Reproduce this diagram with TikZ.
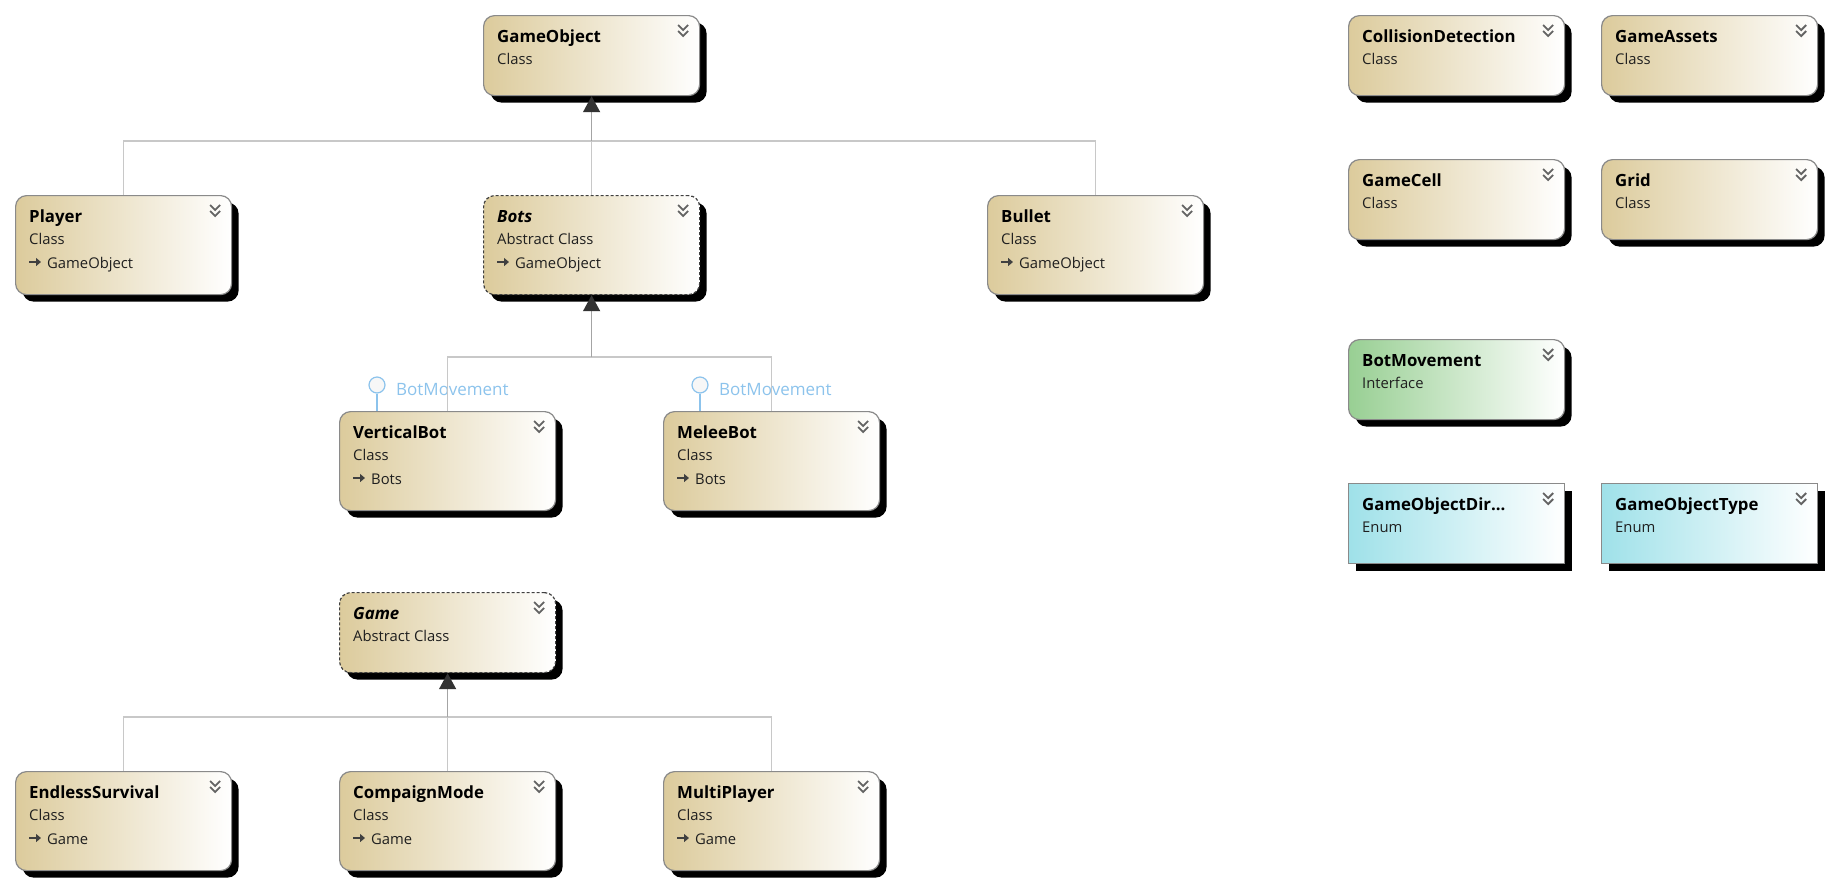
\documentclass[tikz,border=0pt]{standalone}
\usepackage{fontspec}
\setmainfont{Open Sans}
\usetikzlibrary{shadows,arrows.meta,calc}
\definecolor{tanc}{HTML}{DCCB9C}
\definecolor{grnc}{HTML}{98CF93}
\definecolor{cync}{HTML}{9FE1E9}
\definecolor{bordc}{HTML}{8A8A8A}
\definecolor{connc}{HTML}{C8C8C8}
\definecolor{stemc}{HTML}{A4A4A4}
\definecolor{lollic}{HTML}{8CC3EC}
\definecolor{chevc}{HTML}{646464}
\definecolor{tipc}{HTML}{333333}
\tikzset{
  umlbase/.style={draw=bordc, line width=1.2pt, minimum width=216pt, anchor=north west,
    inner sep=0pt, general shadow={fill=black, shadow xshift=7pt, shadow yshift=-7pt}},
  classbox/.style={umlbase, rounded corners=11pt, left color=tanc, right color=white},
  abstractbox/.style={classbox, draw=black!75, dash pattern=on 3pt off 2pt},
  ifacebox/.style={umlbase, rounded corners=11pt, left color=grnc, right color=white},
  enumbox/.style={umlbase, left color=cync, right color=white},
  titlet/.style={anchor=base west, inner sep=0pt, font=\bfseries\fontsize{16.8}{19}\selectfont},
  subt/.style={anchor=base west, inner sep=0pt, text=black!88, font=\fontsize{14.8}{17}\selectfont},
  chevl/.style={draw=chevc, line width=1.8pt},
  basearrow/.style={draw=black!75, line width=1.8pt, -{Triangle[length=5pt,width=8pt]}},
  connl/.style={draw=connc, line width=1.5pt},
  tipl/.style={-{Triangle[length=16pt,width=17pt,color=tipc]}, draw=stemc, line width=1.5pt},
  lollicirc/.style={circle, draw=lollic, fill=black!3, line width=1.2pt, minimum size=16pt, inner sep=0pt},
  lolliline/.style={draw=lollic, line width=1.2pt},
  lollitext/.style={anchor=base west, inner sep=0pt, text=lollic, font=\fontsize{17}{19}\selectfont}
}
% #1 name, #2 style, #3 x, #4 y, #5 height, #6 title, #7 kind, #8 base class
\newcommand\umlbox[8]{%
  \node[#2, minimum height=#5pt] (#1) at (#3,#4) {};
  \node[titlet] (#1-t) at ($(#1.north west)+(14,27)$) {#6};
  \node[subt] (#1-k) at ($(#1.north west)+(14,49)$) {#7};
  \draw[chevl] ($(#1.north east)+(-22,10)$) -- ++(5,5) -- ++(5,-5);
  \draw[chevl] ($(#1.north east)+(-22,16)$) -- ++(5,5) -- ++(5,-5);
  \if\relax\detokenize{#8}\relax\else
    \draw[basearrow] ($(#1.north west)+(14,67)$) -- ++(12,0);
    \node[subt] (#1-b) at ($(#1.north west)+(32,73)$) {#8};
  \fi
}
\begin{document}
\begin{tikzpicture}[x=1pt,y=-1pt]
\useasboundingbox (0,0) rectangle (1828,884);
% left part
\umlbox{gameobject}{classbox}{483}{15}{80}{GameObject}{Class}{}
\umlbox{player}{classbox}{15}{195}{99}{Player}{Class}{GameObject}
\umlbox{bots}{abstractbox}{483}{195}{99}{\itshape Bots}{Abstract Class}{GameObject}
\umlbox{bullet}{classbox}{987}{195}{99}{Bullet}{Class}{GameObject}
\umlbox{verticalbot}{classbox}{339}{411}{99}{VerticalBot}{Class}{Bots}
\umlbox{meleebot}{classbox}{663}{411}{99}{MeleeBot}{Class}{Bots}
\umlbox{game}{abstractbox}{339}{592}{80}{\itshape Game}{Abstract Class}{}
\umlbox{endless}{classbox}{15}{771}{99}{EndlessSurvival}{Class}{Game}
\umlbox{compaign}{classbox}{339}{771}{99}{CompaignMode}{Class}{Game}
\umlbox{multi}{classbox}{663}{771}{99}{MultiPlayer}{Class}{Game}
% right part
\umlbox{collision}{classbox}{1348}{15}{80}{CollisionDetection}{Class}{}
\umlbox{assets}{classbox}{1601}{15}{80}{GameAssets}{Class}{}
\umlbox{cell}{classbox}{1348}{159}{80}{GameCell}{Class}{}
\umlbox{grid}{classbox}{1601}{159}{80}{Grid}{Class}{}
\umlbox{botmove}{ifacebox}{1348}{339}{80}{BotMovement}{Interface}{}
\umlbox{direction}{enumbox}{1348}{483}{80}{GameObjectDir...}{Enum}{}
\umlbox{otype}{enumbox}{1601}{483}{80}{GameObjectType}{Enum}{}
% lollipops
\node[lollitext] (vbLt) at (396,395) {BotMovement};
\node[lollitext] (mbLt) at (719,395) {BotMovement};
\node[lollicirc] (vbL) at (377,385) {};
\node[lollicirc] (mbL) at (700,385) {};
\draw[lolliline] (vbL.south) -- (vbL.south |- verticalbot.north);
\draw[lolliline] (mbL.south) -- (mbL.south |- meleebot.north);
% buses
\coordinate (busA) at (0,141);
\coordinate (busB) at (0,357);
\coordinate (busC) at (0,717);
\coordinate (goJ) at (gameobject.south |- busA);
\coordinate (botsJ) at (bots.south |- busB);
\coordinate (gameJ) at (game.south |- busC);
\draw[connl] (player.north) |- (goJ);
\draw[connl] (bullet.north) |- (goJ);
\draw[connl] (bots.north) -- (goJ);
\draw[tipl] (goJ) -- (gameobject.south);
\draw[connl] (verticalbot.north) |- (botsJ);
\draw[connl] (meleebot.north) |- (botsJ);
\draw[tipl] (botsJ) -- (bots.south);
\draw[connl] (endless.north) |- (gameJ);
\draw[connl] (multi.north) |- (gameJ);
\draw[connl] (compaign.north) -- (gameJ);
\draw[tipl] (gameJ) -- (game.south);
\end{tikzpicture}
\end{document}
